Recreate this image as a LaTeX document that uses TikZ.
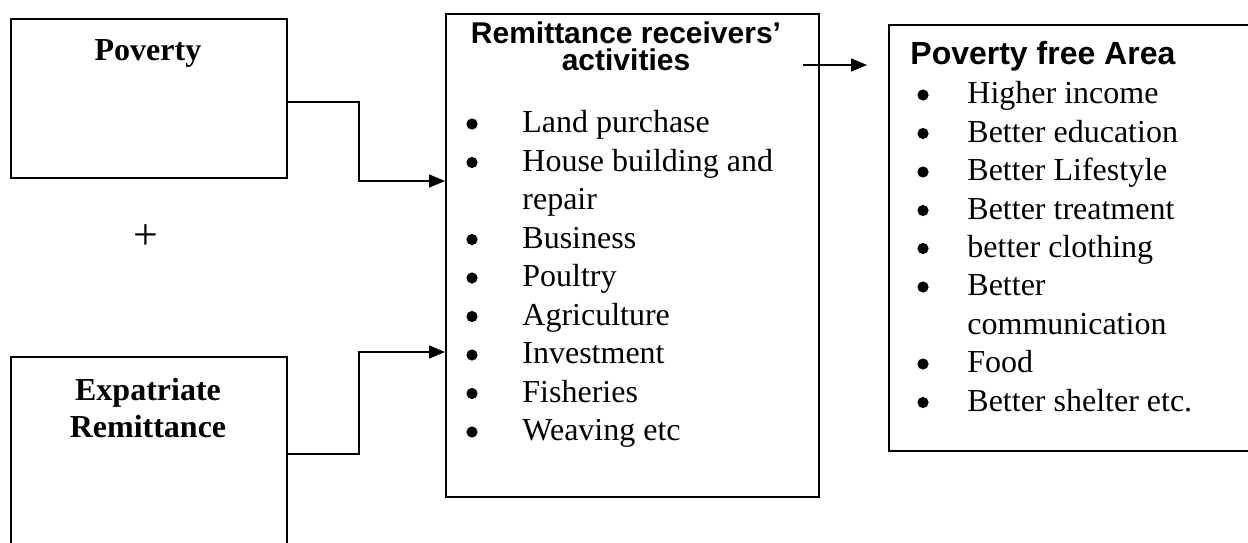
\documentclass[tikz,border=0pt]{standalone}
\usepackage{fontspec}
\setmainfont{Liberation Serif}
\setsansfont{Liberation Sans}
\usetikzlibrary{arrows.meta}
\begin{document}
\begin{tikzpicture}[x=0.5pt,y=-0.5pt,
		box/.style={draw=black,line width=1pt,anchor=north west,inner sep=0pt},
		head/.style={anchor=base,inner sep=0pt,font=\fontsize{16}{19}\selectfont\bfseries},
		sanshead/.style={anchor=base,inner sep=0pt,font=\fontsize{15}{17}\selectfont\sffamily\bfseries},
		item/.style={anchor=base west,inner sep=0pt,font=\fontsize{16}{19}\selectfont},
		dot/.style={circle,fill=black,inner sep=0pt,minimum size=5.6pt},
		link/.style={line width=0.75pt,-{Triangle[length=8pt,width=6.5pt]}}]
		\useasboundingbox (0,0) rectangle (1248,542);
		\node [box,minimum width=138pt,minimum height=79.5pt] (pov) at (10,18) {};
		\node [head] (povtxt) at (148,60) {Poverty};
		\node [anchor=center,inner sep=0pt,font=\fontsize{22}{24}\selectfont] (plus) at (146,237) {+};
		\node [box,minimum width=138pt,minimum height=110pt] (exp) at (10,356) {};
		\node [head] (exptxta) at (148,400) {Expatriate};
		\node [head] (exptxtb) at (148,437) {Remittance};
		\node [box,minimum width=186.5pt,minimum height=241.5pt] (act) at (445,13) {};
		\node [sanshead] (acttxta) at (626,43) {Remittance receivers’};
		\node [sanshead] (acttxtb) at (626,70) {activities};
		\node [dot] (ad1) at (472,124) {};
		\node [item] (ai1) at (522,132.5) {Land purchase};
		\node [dot] (ad2) at (472,162.5) {};
		\node [item] (ai2) at (522,171) {House building and};
		\node [item] (ai2b) at (522,209.5) {repair};
		\node [dot] (ad3) at (472,239.5) {};
		\node [item] (ai3) at (522,248) {Business};
		\node [dot] (ad4) at (472,278) {};
		\node [item] (ai4) at (522,286.5) {Poultry};
		\node [dot] (ad5) at (472,316.5) {};
		\node [item] (ai5) at (522,325) {Agriculture};
		\node [dot] (ad6) at (472,355) {};
		\node [item] (ai6) at (522,363.5) {Investment};
		\node [dot] (ad7) at (472,393.5) {};
		\node [item] (ai7) at (522,402) {Fisheries};
		\node [dot] (ad8) at (472,432) {};
		\node [item] (ai8) at (522,440.5) {Weaving etc};
		\node [box,minimum width=182pt,minimum height=213pt] (free) at (888,24) {};
		\node [anchor=base west,inner sep=0pt,font=\fontsize{16}{19}\selectfont\sffamily\bfseries] (freetxt) at (910,64) {Poverty free Area};
		\node [dot] (fd1) at (923,95) {};
		\node [item] (fi1) at (967,103.5) {Higher income};
		\node [dot] (fd2) at (923,133.5) {};
		\node [item] (fi2) at (967,142) {Better education};
		\node [dot] (fd3) at (923,172) {};
		\node [item] (fi3) at (967,180.5) {Better Lifestyle};
		\node [dot] (fd4) at (923,210.5) {};
		\node [item] (fi4) at (967,219) {Better treatment};
		\node [dot] (fd5) at (923,248.5) {};
		\node [item] (fi5) at (967,257) {better clothing};
		\node [dot] (fd6) at (923,287) {};
		\node [item] (fi6) at (967,295.5) {Better};
		\node [item] (fi6b) at (967,334) {communication};
		\node [dot] (fd7) at (923,364) {};
		\node [item] (fi7) at (967,372.5) {Food};
		\node [dot] (fd8) at (923,402.5) {};
		\node [item] (fi8) at (967,411) {Better shelter etc.};
		\coordinate (bend) at (359,0);
		\draw [link] (pov.east |- 0,102) -| (bend |- 0,181) -- (act.west |- 0,181);
		\draw [link] (exp.east |- 0,454) -| (bend |- 0,352) -- (act.west |- 0,352);
		\coordinate (outstart) at (803,65);
		\coordinate (outend) at (867,65);
		\draw [link] (outstart) -- (outend);
	\end{tikzpicture}
\end{document}
